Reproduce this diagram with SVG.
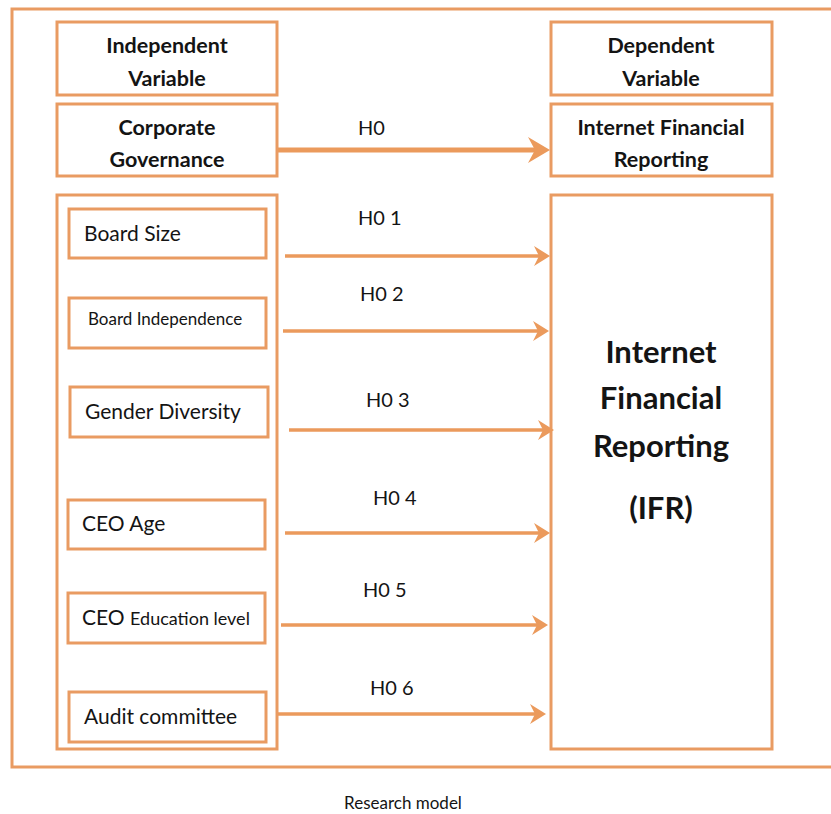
<svg xmlns="http://www.w3.org/2000/svg" width="831" height="814" viewBox="0 0 831 814">
  <style>
    .frame { fill: #ffffff; stroke: #E99B62; stroke-width: 3; }
    .box { fill: #ffffff; stroke: #E99B62; stroke-width: 3; }
    .link { stroke: #EB9A5C; stroke-width: 3.5; fill: none; }
    .link-main { stroke: #EB9A5C; stroke-width: 5; fill: none; }
    .hd { font-family: Lato, "Open Sans", sans-serif; font-weight: bold; font-size: 21.5px; fill: #141414; text-anchor: middle; }
    .big { font-family: Lato, "Open Sans", sans-serif; font-weight: bold; font-size: 31px; fill: #141414; text-anchor: middle; }
    .item { font-family: Lato, "Open Sans", sans-serif; font-size: 21px; fill: #141414; }
    .lbl { font-family: Lato, "Open Sans", sans-serif; font-size: 20px; fill: #141414; }
    .cap { font-family: Lato, "Open Sans", sans-serif; font-size: 17px; fill: #141414; text-anchor: middle; }
  </style>
  <defs>
    <!-- reference point sits inside the head so the tip runs past the line end -->
    <marker id="head" viewBox="0 0 16 20" markerWidth="16" markerHeight="20" refX="10" refY="10" orient="auto" markerUnits="userSpaceOnUse">
      <path d="M0,0 L16,10 L0,20 L5,10 Z" fill="#EB9A5C"/>
    </marker>
    <marker id="head-lg" viewBox="0 0 22 26" markerWidth="22" markerHeight="26" refX="14" refY="13" orient="auto" markerUnits="userSpaceOnUse">
      <path d="M0,0 L22,13 L0,26 L7,13 Z" fill="#EB9A5C"/>
    </marker>
  </defs>

  <rect width="831" height="814" fill="#ffffff"/>

  <!-- outer frame, open past the right edge -->
  <rect class="frame" x="12" y="9" width="840" height="758"/>

  <g id="independent-variable">
    <rect class="box" x="57" y="22" width="220" height="73"/>
    <text class="hd" x="167" y="53">Independent</text>
    <text class="hd" x="167" y="86">Variable</text>
  </g>

  <g id="dependent-variable">
    <rect class="box" x="551" y="22" width="221" height="73"/>
    <text class="hd" x="661" y="53">Dependent</text>
    <text class="hd" x="661" y="86">Variable</text>
  </g>

  <g id="corporate-governance">
    <rect class="box" x="57" y="104" width="220" height="72"/>
    <text class="hd" x="167" y="135">Corporate</text>
    <text class="hd" x="167" y="167">Governance</text>
  </g>

  <g id="ifr-heading">
    <rect class="box" x="551" y="104" width="221" height="72"/>
    <text class="hd" x="661" y="135">Internet Financial</text>
    <text class="hd" x="661" y="167">Reporting</text>
  </g>

  <g id="governance-group">
    <rect class="box" x="57" y="195" width="220" height="554"/>
  </g>

  <g id="board-size">
    <rect class="box" x="69" y="209" width="197" height="49"/>
    <text class="item" x="84" y="241">Board Size</text>
  </g>

  <g id="board-independence">
    <rect class="box" x="69" y="298" width="197" height="50"/>
    <text class="item" x="88" y="325" style="font-size:17px">Board Independence</text>
  </g>

  <g id="gender-diversity">
    <rect class="box" x="70" y="387" width="198" height="50"/>
    <text class="item" x="85" y="419">Gender Diversity</text>
  </g>

  <g id="ceo-age">
    <rect class="box" x="68" y="500" width="197" height="49"/>
    <text class="item" x="82" y="531">CEO Age</text>
  </g>

  <g id="ceo-education">
    <rect class="box" x="68" y="593" width="197" height="50"/>
    <text class="item" x="82" y="625">CEO <tspan style="font-size:18px">Education level</tspan></text>
  </g>

  <g id="audit-committee">
    <rect class="box" x="69" y="692" width="197" height="50"/>
    <text class="item" x="84" y="724">Audit committee</text>
  </g>

  <g id="ifr">
    <rect class="box" x="551" y="195" width="221" height="554"/>
    <text class="big" x="661" y="363">Internet</text>
    <text class="big" x="661" y="409">Financial</text>
    <text class="big" x="661" y="457">Reporting</text>
    <text class="big" x="661" y="519">(IFR)</text>
  </g>

  <g id="connectors">
    <line class="link-main" x1="278" y1="150" x2="542" y2="150" marker-end="url(#head-lg)"/>
    <line class="link" x1="285" y1="256" x2="544" y2="256" marker-end="url(#head)"/>
    <line class="link" x1="283" y1="331" x2="543" y2="331" marker-end="url(#head)"/>
    <line class="link" x1="289" y1="430" x2="548" y2="430" marker-end="url(#head)"/>
    <line class="link" x1="285" y1="533" x2="544" y2="533" marker-end="url(#head)"/>
    <line class="link" x1="281" y1="625" x2="542" y2="625" marker-end="url(#head)"/>
    <line class="link" x1="278" y1="714" x2="540" y2="714" marker-end="url(#head)"/>

    <text class="lbl" x="358" y="135">H0</text>
    <text class="lbl" x="358" y="225">H0 1</text>
    <text class="lbl" x="360" y="301">H0 2</text>
    <text class="lbl" x="366" y="407">H0 3</text>
    <text class="lbl" x="373" y="505">H0 4</text>
    <text class="lbl" x="363" y="597">H0 5</text>
    <text class="lbl" x="370" y="695">H0 6</text>
  </g>

  <text class="cap" x="403" y="809">Research model</text>
</svg>
